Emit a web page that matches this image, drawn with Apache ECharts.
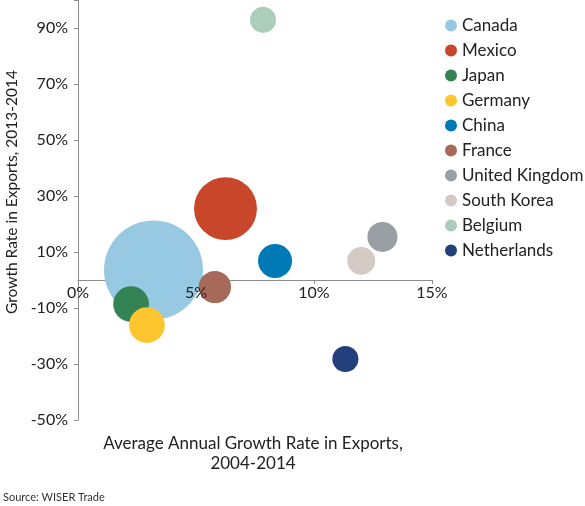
<!DOCTYPE html>
<html>
<head>
<meta charset="utf-8">
<script src="https://cdn.jsdelivr.net/npm/echarts@6/dist/echarts.min.js"></script>
<style>html,body{margin:0;padding:0;background:#fff}#c{width:585px;height:506px}</style>
</head>
<body>
<div id="c"></div>
<script>
// Data
var countries = ['Canada','Mexico','Japan','Germany','China','France','United Kingdom','South Korea','Belgium','Netherlands'];
var avgGrowth = [3.2, 6.25, 2.25, 2.92, 8.35, 5.8, 12.9, 12.0, 7.84, 11.33];      // % 2004-2014
var growth1314 = [3.6, 25.5, -8.6, -16.1, 6.8, -2.5, 15.4, 6.8, 92.9, -28.2];     // % 2013-2014
var exportSize = [24.5, 9.9, 3.2, 3.2, 2.9, 2.6, 2.25, 1.95, 1.7, 1.7];           // relative bubble size
var colors = ['#98C9E2','#C8472A','#348355','#FDC62E','#0079B7','#A76A5A','#9A9EA5','#D3CAC3','#ADCDBB','#233F7C'];
var xTicks = {min: 0, max: 15, interval: 5};
var yTicks = {min: -50, max: 100, interval: 20};

var FONT = 'Lato';
var series = countries.map(function(name, i){
  return {
    name: name,
    type: 'scatter',
    xAxisIndex: 0,
    data: [[avgGrowth[i], growth1314[i], exportSize[i]]],
    symbolSize: function(d){ return 20 * Math.sqrt(d[2]); },
    itemStyle: {color: colors[i], opacity: 1},
    clip: false,
    z: 2
  };
});

var pct = function(v){ return v + '%'; };
var chart = echarts.init(document.getElementById('c'), null, {renderer: 'canvas'});
chart.setOption({
  animation: false,
  textStyle: {fontFamily: FONT},
  grid: {left: 78, right: 153, top: 0, bottom: 86, containLabel: false},
  legend: {
    orient: 'vertical', left: 440, top: 12,
    icon: 'circle', itemWidth: 12, itemHeight: 12, itemGap: 8,
    textStyle: {fontFamily: FONT, fontSize: 17, color: '#222'},
    data: countries
  },
  xAxis: [{
    type: 'value', min: xTicks.min, max: xTicks.max, interval: xTicks.interval,
    position: 'bottom', offset: -140, z: 0,
    axisLine: {show: true, onZero: false, lineStyle: {color: '#8c8c8c', width: 1}},
    axisTick: {show: true, length: 4, lineStyle: {color: '#8c8c8c'}},
    splitLine: {show: false},
    axisLabel: {show: false}
  }, {
    type: 'value', min: xTicks.min, max: xTicks.max, interval: xTicks.interval,
    position: 'bottom', offset: -140, z: 10,
    axisLine: {show: false, onZero: false},
    axisTick: {show: false},
    splitLine: {show: false},
    axisLabel: {fontFamily: FONT, fontSize: 16, color: '#222', margin: 5, formatter: pct}
  }],
  yAxis: {
    type: 'value', min: yTicks.min, max: yTicks.max, interval: yTicks.interval,
    axisLine: {show: true, onZero: false, lineStyle: {color: '#8c8c8c', width: 1}},
    axisTick: {show: true, length: 4, lineStyle: {color: '#8c8c8c'}},
    splitLine: {show: false},
    axisLabel: {fontFamily: FONT, fontSize: 16, color: '#222', margin: 10, formatter: function(v){ return v >= 100 ? '' : v + '%'; }}
  },
  graphic: [
    {type: 'text', left: 4, top: 70, rotation: Math.PI/2,
     style: {text: 'Growth Rate in Exports, 2013-2014', font: '15.5px ' + FONT, fill: '#222'}},
    {type: 'text', x: 253, y: 434,
     style: {text: 'Average Annual Growth Rate in Exports,\n2004-2014', font: '17px ' + FONT, fill: '#222', align: 'center', lineHeight: 20}},
    {type: 'text', x: 3, y: 492,
     style: {text: 'Source: WISER Trade', font: '11px ' + FONT, fill: '#333'}}
  ],
  series: series
});
</script>
</body>
</html>
